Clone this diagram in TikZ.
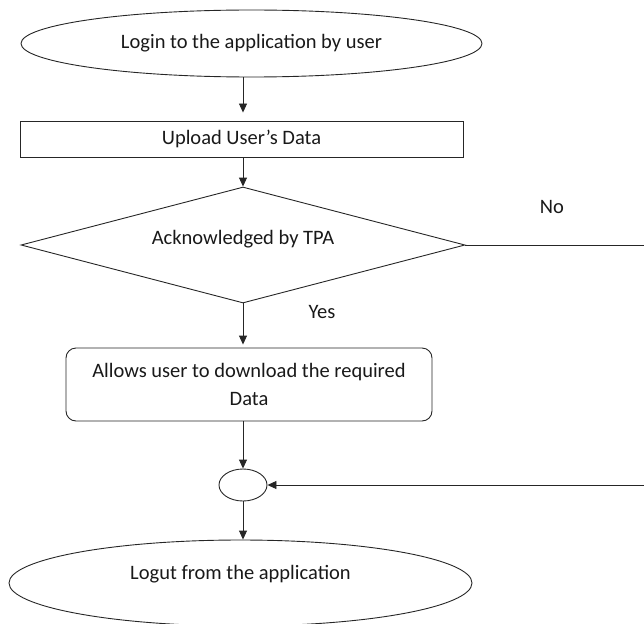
\documentclass[tikz,border=0pt]{standalone}
\usepackage{fontspec}
\setmainfont{Carlito}
\usetikzlibrary{shapes.geometric,arrows.meta}
\begin{document}
\begin{tikzpicture}[x=1pt,y=-1pt,
  every node/.style={font=\fontsize{20.5}{28}\selectfont, text=black!90},
  shp/.style={draw=black!85, line width=0.9pt, inner sep=0pt},
  ell/.style={shp, ellipse},
  boxnode/.style={shp, rectangle},
  roundbox/.style={shp, rectangle, rounded corners=10pt},
  decision/.style={shp, diamond},
  conn/.style={draw=black!85, line width=0.9pt},
  arr/.style={conn, -{Triangle[length=9pt,width=8pt]}},
  lbl/.style={inner sep=0pt}
]
\useasboundingbox (0,0) rectangle (644,623);

\node[ell, minimum width=461pt, minimum height=67pt] (start) at (251.5,43.5) {Login to the application by user};
\node[boxnode, minimum width=443pt, minimum height=36pt] (upload) at (241.5,139) {Upload User’s Data};
\node[decision, minimum width=444pt, minimum height=116pt, aspect=3.83, text height=15pt, text depth=16pt] (ack) at (243,245) {Acknowledged by TPA};
\node[roundbox, minimum width=366pt, minimum height=73pt, align=center] (allow) at (249,384.5) {Allows user to download the required\\Data};
\node[ell, minimum width=48pt, minimum height=32pt] (join) at (243,485) {};
\node[ell, minimum width=463pt, minimum height=86pt, text height=15pt, text depth=22pt] (logout) at (240.5,583) {Logut from the application};

\node[lbl] (no) at (552,207) {No};
\node[lbl] (yes) at (322,312) {Yes};

\coordinate (noend) at (644,245);
\coordinate (backstart) at (644,485);

\draw[arr, shorten >=8pt] (ack.north |- start.south) -- (ack.north |- upload.north);
\draw[arr] (ack.north |- upload.south) -- (ack.north);
\draw[arr, shorten >=3pt] (ack.south) -- (ack.south |- allow.north);
\draw[arr] (join.north |- allow.south) -- (join.north);
\draw[arr] (join.south) -- (join.south |- logout.north);
\draw[conn] (ack.east) -- (noend);
\draw[arr] (backstart) -- (join.east);
\end{tikzpicture}
\end{document}
